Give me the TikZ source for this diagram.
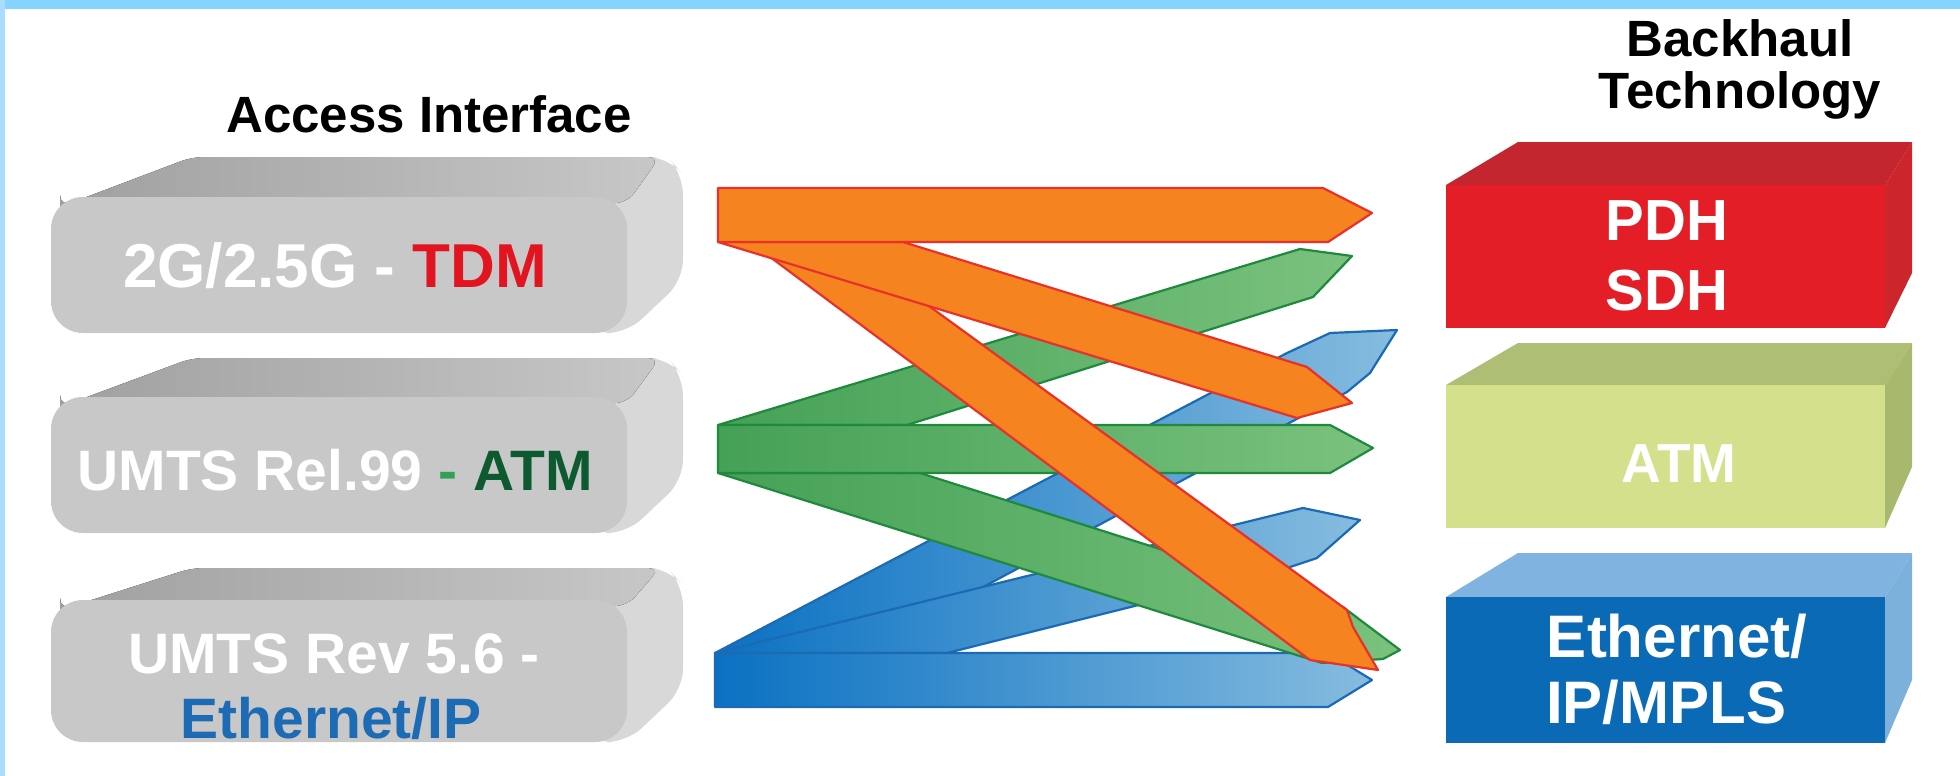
\documentclass[tikz,border=0pt]{standalone}
\usepackage{fontspec}
\setmainfont{Liberation Sans}
\definecolor{frametop}{HTML}{86D3FF}
\definecolor{frameleft}{HTML}{A9DCFF}
\definecolor{accF}{HTML}{C8C8C8}
\definecolor{accT}{HTML}{A0A0A0}
\definecolor{accS}{HTML}{D8D8D8}
\definecolor{pdhF}{HTML}{E31E26}
\definecolor{pdhT}{HTML}{C3262E}
\definecolor{pdhS}{HTML}{CC252C}
\definecolor{atmF}{HTML}{D5E08C}
\definecolor{atmT}{HTML}{AEBE74}
\definecolor{atmS}{HTML}{A8B86C}
\definecolor{ethF}{HTML}{0B6AB5}
\definecolor{ethT}{HTML}{80B3DF}
\definecolor{ethS}{HTML}{7CB1DC}
\definecolor{tdmred}{HTML}{E2141F}
\definecolor{atmdark}{HTML}{0D5A30}
\definecolor{atmdash}{HTML}{31A156}
\definecolor{ipblue}{HTML}{1C6BB4}
\definecolor{orfill}{HTML}{F5831F}
\definecolor{orline}{HTML}{E8312A}
\definecolor{grL}{HTML}{45A156}
\definecolor{grR}{HTML}{7AC27E}
\definecolor{grline}{HTML}{1F8A3D}
\definecolor{blL}{HTML}{0A71C2}
\definecolor{blR}{HTML}{86BCDF}
\definecolor{blline}{HTML}{1B6AB3}
\begin{document}
\begin{tikzpicture}[x=.5pt,y=-.5pt,line join=round,
 head/.style={font=\bfseries\fontsize{25.5}{30}\selectfont,anchor=base},
 acc/.style={font=\bfseries\fontsize{#1}{34}\selectfont,white,anchor=base},
 bh/.style={font=\bfseries\fontsize{#1}{34}\selectfont,white,anchor=base},
 orarr/.style={fill=orfill,draw=orline,line width=1.1pt},
 grarr/.style={left color=grL,right color=grR,draw=grline,line width=1.1pt},
 blarr/.style={left color=blL,right color=blR,draw=blline,line width=1.1pt}]
 \useasboundingbox (0,0) rectangle (1960,776);
 \fill[white] (0,0) rectangle (1960,776);
 \fill[frametop] (0,0) rectangle (1960,9); \fill[frameleft] (0,0) rectangle (5,776);
 \foreach \t/\f/\b in {157/197/333,358/397/533,568/600/742}{
  \fill[accS,rounded corners=10] (590,\f) -- (640,\t) -- (668,\t) -- (683,\t+18) -- (683,\b-53) -- (627,\b) -- (590,\b) -- cycle;
  \fill[left color=accT,middle color=accT,right color=accS!70!accT,rounded corners=6] (60,\f+10) -- (192,\t) -- (660,\t) -- (627,\f+6) -- (60,\f+6) -- cycle;
  \fill[accF,rounded corners=16] (51,\f) rectangle (627,\b);}
 \foreach \t/\f/\b/\s/\k in {142/185/328/273/pdh,343/385/528/467/atm,553/597/743/680/eth}{
  \fill[fill=\k T] (1446,\f) -- (1518,\t) -- (1912,\t) -- (1885,\f) -- cycle;
  \fill[fill=\k S] (1885,\f) -- (1912,\t) -- (1912,\s) -- (1885,\b) -- cycle;
  \fill[fill=\k F] (1446,\f) rectangle (1885,\b);}
 \draw[blarr] (715,653) -- (1287,353) -- (1330,333) -- (1397,330) -- (1370,373) -- (1347,392) -- (860,653) -- cycle;
 \draw[blarr] (715,653) -- (1303,508) -- (1360,520) -- (1317,558) -- (1290,567) -- (947,653) -- cycle;
 \draw[blarr] (715,653) -- (1328,653) -- (1372,680) -- (1328,707) -- (715,707) -- cycle;
 \draw[grarr] (718,425) -- (1300,249) -- (1352,256) -- (1313,297) -- (907,425) -- cycle;
 \draw[grarr] (718,473) -- (1322,663) -- (1383,659) -- (1400,650) -- (1343,607) -- (920,473) -- cycle;
 \draw[grarr] (718,425) -- (1330,425) -- (1373,448) -- (1330,473) -- (718,473) -- cycle;
 \draw[orarr] (750,242) -- (1310,660) -- (1378,670) -- (1353,627) -- (1347,610) -- (841,242) -- cycle;
 \draw[orarr] (718,242) -- (1297,418) -- (1352,403) -- (1307,367) -- (903,242) -- cycle;
 \draw[orarr] (718,188) -- (1323,188) -- (1372,213) -- (1328,242) -- (718,242) -- cycle;
 \node[head] (access) at (429,132) {Access Interface};
 \node[head] (backhaul) at (1740,56) {Backhaul}; \node[head] (techno) at (1740,108) {Technology};
 \node[acc=31] (tdm) at (335,287) {2G/2.5G - \textcolor{tdmred}{TDM}};
 \node[acc=28.5] (rel) at (335,490) {UMTS Rel.99 \textcolor{atmdash}{-} \textcolor{atmdark}{ATM}};
 \node[acc=28.5] (rev) at (334,673) {UMTS Rev 5.6 -};
 \node[acc=28.5,text=ipblue] (ethip) at (331,738) {Ethernet/IP};
 \node[bh=29] (pdh) at (1667,240) {PDH}; \node[bh=29] (sdh) at (1667,310) {SDH};
 \node[bh=27.5] (atm) at (1679,482) {ATM};
 \node[bh=30] (eth) at (1677,657) {Ethernet/}; \node[bh=30] (mpls) at (1666,723) {IP/MPLS};
\end{tikzpicture}
\end{document}
